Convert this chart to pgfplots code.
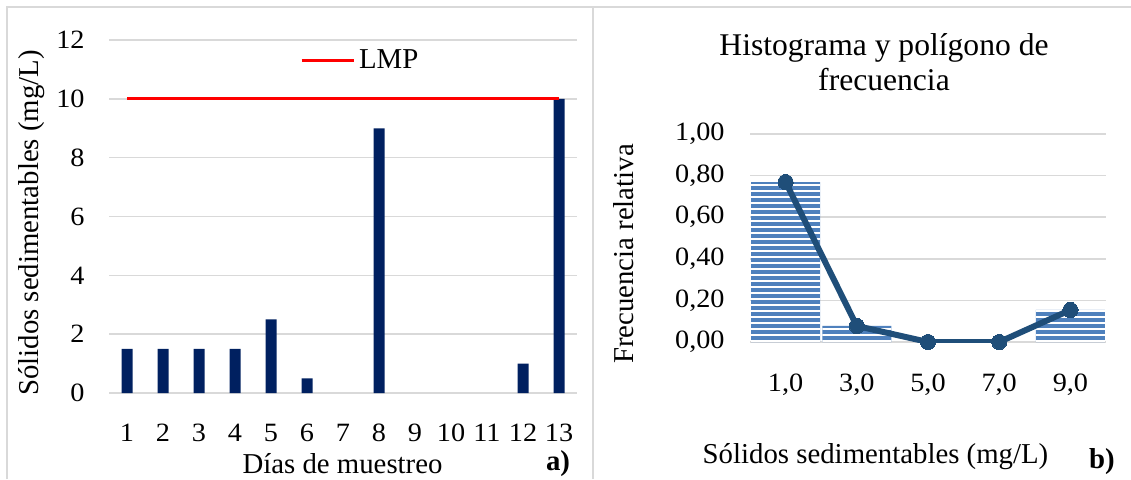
\documentclass[border=0pt]{standalone}
\usepackage{pgfplots}
\pgfplotsset{compat=1.18}
\usepackage{fontspec}
\setmainfont{Liberation Serif}
\newfontfamily\tickfont{Liberation Serif}[FakeStretch=1.07]
\usetikzlibrary{patterns.meta}
\definecolor{navybar}{RGB}{0,32,96}
\definecolor{histblue}{RGB}{79,129,189}
\definecolor{linecol}{RGB}{31,78,121}
\definecolor{gridgray}{RGB}{217,217,217}
\definecolor{lmpred}{RGB}{255,0,0}
\begin{document}
\begin{tikzpicture}[font=\fontsize{14.4}{17}\selectfont]
\useasboundingbox (0pt,0pt) rectangle (565.5pt,239.5pt);
\draw[gridgray, line width=0.75pt] (3.5pt,0pt) -- (3.5pt,236pt) -- (565.5pt,236pt);
\draw[gridgray, line width=0.75pt] (296.5pt,0pt) -- (296.5pt,236pt);

% ---------- panel a ----------
\begin{axis}[
  at={(54.5pt,43pt)}, anchor=south west,
  scale only axis, width=234pt, height=176.5pt,
  xmin=0.5, xmax=13.5, ymin=0, ymax=12,
  xtick={1,2,3,4,5,6,7,8,9,10,11,12,13},
  xticklabels={1,2,3,4,5,6,7,8,9,10,11,12,13},
  ytick={0,2,4,6,8,10,12},
  yticklabels={0,2,4,6,8,10,12},
  axis line style={draw=none},
  major tick length=0pt,
  ymajorgrids, grid style={gridgray, line width=0.75pt},
  tick label style={font=\tickfont\fontsize{13.2}{15}\selectfont},
  yticklabel style={anchor=east, inner sep=0pt, xshift=-12pt},
  xticklabel style={anchor=base, inner sep=0pt, yshift=-24pt},
  legend style={at={(axis description cs:0.408,0.943)}, anchor=west,
    draw=none, fill=none, inner sep=0pt},
  legend image code/.code={\draw[#1] (0pt,0pt) -- (26pt,0pt);},
]
\addplot[ybar, bar width=5.5pt, fill=navybar, draw=none, forget plot,
  restrict y to domain=0.001:100] coordinates {
 (1,1.5) (2,1.5) (3,1.5) (4,1.5) (5,2.5) (6,0.5) (7,0) (8,9) (9,0) (10,0) (11,0) (12,1) (13,10)};
\addplot[lmpred, line width=1.4pt] coordinates {(1,10) (13,10)};
\addlegendentry{LMP}
\end{axis}
\node[rotate=90, anchor=center] at (15.75pt,128pt) {Sólidos sedimentables (mg/L)};
\node[anchor=base] at (171.25pt,3pt) {Días de muestreo};
\node[anchor=base, font=\fontsize{14.4}{17}\selectfont\bfseries] at (279pt,4.5pt) {a)};

% ---------- panel b ----------
\begin{axis}[
  at={(375pt,68.5pt)}, anchor=south west,
  scale only axis, width=178pt, height=104pt,
  xmin=0, xmax=10, ymin=0, ymax=1,
  xtick={1,3,5,7,9},
  xticklabels={{1,0},{3,0},{5,0},{7,0},{9,0}},
  ytick={0,0.2,0.4,0.6,0.8,1},
  yticklabels={{0,00},{0,20},{0,40},{0,60},{0,80},{1,00}},
  axis line style={draw=none},
  major tick length=0pt,
  ymajorgrids, grid style={gridgray, line width=0.75pt},
  tick label style={font=\tickfont\fontsize{13.2}{15}\selectfont},
  yticklabel style={anchor=east, inner sep=0pt, xshift=-12.5pt},
  xticklabel style={anchor=base, inner sep=0pt, yshift=-24.5pt},
]
\addplot[ybar, bar width=1.94, fill=histblue, draw=none,
  restrict y to domain=0.001:100,
  postaction={pattern={Lines[angle=0,distance=3pt,line width=1pt]}, pattern color=white}]
  coordinates {(1,0.769) (3,0.077) (5,0) (7,0) (9,0.154)};
\addplot[linecol, line width=3pt, mark=*, mark size=3.8pt,
  mark options={fill=linecol, draw=linecol, line width=0pt}]
  coordinates {(1,0.769) (3,0.077) (5,0) (7,0) (9,0.154)};
\end{axis}
\node[anchor=base, font=\fontsize{15.8}{19}\selectfont] at (442pt,212pt) {Histograma y polígono de};
\node[anchor=base, font=\fontsize{15.8}{19}\selectfont] at (442pt,194.5pt) {frecuencia};
\node[rotate=90, anchor=center] at (312pt,112.5pt) {Frecuencia relativa};
\node[anchor=base] at (437.75pt,8pt) {Sólidos sedimentables (mg/L)};
\node[anchor=base, font=\fontsize{14.4}{17}\selectfont\bfseries] at (551pt,5.5pt) {b)};
\end{tikzpicture}
\end{document}
